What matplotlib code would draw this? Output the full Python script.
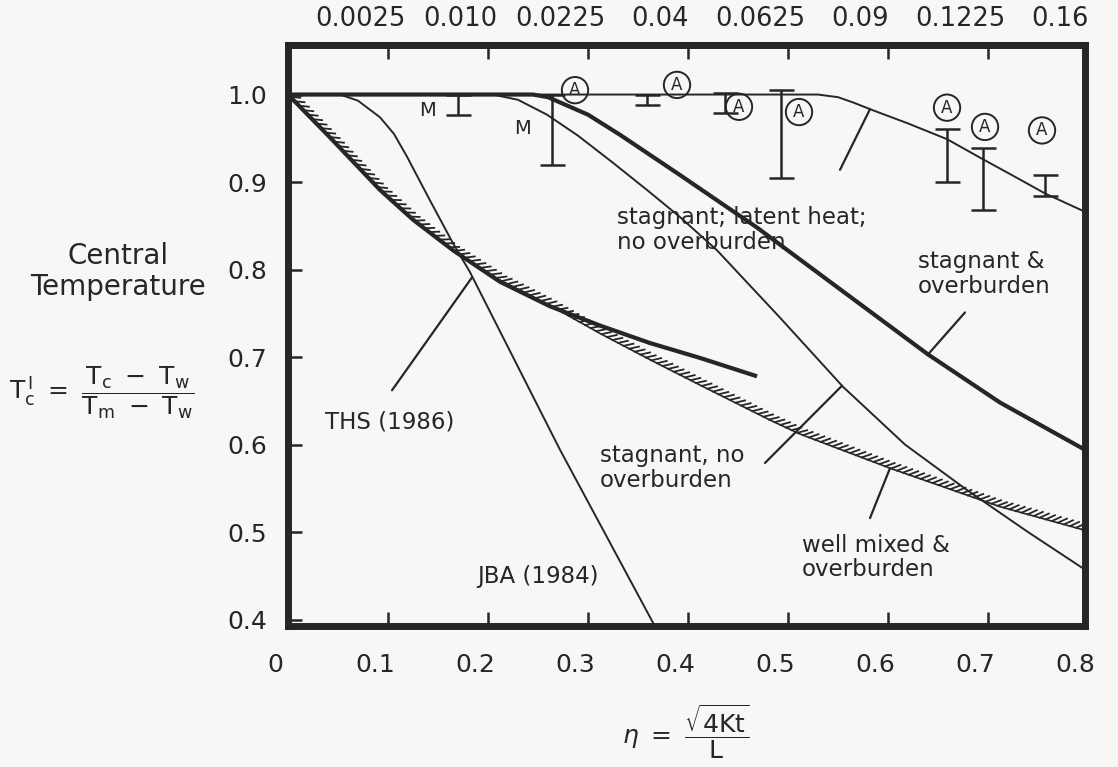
import numpy as np
import matplotlib
matplotlib.use('Agg')
import matplotlib.pyplot as plt
from matplotlib import patheffects
from matplotlib.transforms import ScaledTranslation, blended_transform_factory

plt.rcParams['font.family'] = ['DejaVu Sans']
plt.rcParams['mathtext.fontset'] = 'dejavusans'

ink = '#262626'
paper = '#f7f7f5'

#%% data: dimensionless central temperature vs eta
eta_ticks = [0.1, 0.2, 0.3, 0.4, 0.5, 0.6, 0.7]
eta_labels = ['0', '0.1', '0.2', '0.3', '0.4', '0.5', '0.6', '0.7', '0.8']
eta_label_vals = [0.0, 0.1, 0.2, 0.3, 0.4, 0.5, 0.6, 0.7, 0.8]
top_vals = [0.1, 0.2, 0.3, 0.4, 0.5, 0.6, 0.7, 0.8]
top_labels = ['0.0025', '0.010', '0.0225', '0.04', '0.0625', '0.09', '0.1225', '0.16']
tc_ticks = [0.4, 0.5, 0.6, 0.7, 0.8, 0.9, 1.0]

# well mixed & overburden (hatched)
eta_mixed = [0.0, 0.042, 0.092, 0.125, 0.165, 0.212, 0.262, 0.312, 0.362, 0.412, 0.482, 0.512, 0.602, 0.712, 0.797]
tc_mixed = [1.0, 0.951, 0.891, 0.857, 0.822, 0.788, 0.759, 0.727, 0.697, 0.668, 0.628, 0.612, 0.573, 0.529, 0.502]

# THS (1986)
eta_ths = [0.0, 0.042, 0.092, 0.125, 0.165, 0.212, 0.262, 0.312, 0.362, 0.412, 0.469]
tc_ths = [1.0, 0.951, 0.891, 0.857, 0.822, 0.786, 0.758, 0.736, 0.716, 0.699, 0.678]

# JBA (1984)
eta_jba = [0.0, 0.052, 0.07, 0.092, 0.106, 0.119, 0.142, 0.165, 0.182, 0.272, 0.368]
tc_jba = [1.0, 1.0, 0.993, 0.974, 0.955, 0.929, 0.879, 0.830, 0.797, 0.594, 0.390]

# stagnant, no overburden
eta_stag = [0.0, 0.205, 0.23, 0.259, 0.29, 0.325, 0.36, 0.392, 0.429, 0.492, 0.555, 0.617, 0.679, 0.74, 0.797]
tc_stag = [1.0, 1.0, 0.994, 0.977, 0.953, 0.922, 0.890, 0.860, 0.822, 0.745, 0.666, 0.600, 0.548, 0.500, 0.457]

# stagnant & overburden
eta_over = [0.0, 0.245, 0.26, 0.30, 0.332, 0.392, 0.442, 0.469, 0.542, 0.640, 0.712, 0.797]
tc_over = [1.0, 1.0, 0.997, 0.977, 0.954, 0.908, 0.869, 0.848, 0.786, 0.703, 0.648, 0.594]

# stagnant; latent heat; no overburden
eta_lat = [0.0, 0.53, 0.55, 0.565, 0.585, 0.62, 0.659, 0.695, 0.727, 0.757, 0.797]
tc_lat = [1.0, 1.0, 0.997, 0.991, 0.982, 0.967, 0.949, 0.926, 0.906, 0.887, 0.866]

# measured ranges
bar_eta = [0.170, 0.264, 0.359, 0.437, 0.493, 0.659, 0.695, 0.757]
bar_lo = [0.977, 0.919, 0.988, 0.979, 0.905, 0.900, 0.868, 0.884]
bar_hi = [1.0, 1.0, 1.0, 1.002, 1.005, 0.961, 0.939, 0.908]

a_eta = [0.287, 0.389, 0.451, 0.511, 0.659, 0.697, 0.754]
a_tc = [1.005, 1.011, 0.986, 0.980, 0.985, 0.963, 0.959]

m_eta = [0.139, 0.234]
m_tc = [0.982, 0.961]

#%% figure
fig = plt.figure(figsize=(11.18, 7.67), dpi=100, facecolor=paper)
ax = fig.add_axes([0.2576, 0.1838, 0.7129, 0.7575], facecolor=paper)
ax.set_xlim(0, 0.797)
ax.set_ylim(0.3926, 1.0566)

for s in ax.spines.values():
    s.set_linewidth(5)
    s.set_color(ink)

ax.set_xticks(eta_ticks)
ax.set_xticklabels([])
ax.set_yticks(tc_ticks)
ax.set_yticklabels([f'{v:.1f}' for v in tc_ticks])
ax.tick_params(axis='both', direction='in', length=10, width=1.8, color=ink)
ax.tick_params(axis='y', pad=15, labelsize=18, labelcolor=ink)

top = ax.secondary_xaxis('top')
top.set_xticks(eta_ticks)
top.set_xticklabels([])
top.tick_params(direction='in', length=10, width=1.8, color=ink)
top.spines['top'].set_linewidth(5)
top.spines['top'].set_color(ink)

# tick labels, set slightly left of their ticks
xb = blended_transform_factory(ax.transData, ax.transAxes)
for v, s in zip(eta_label_vals, eta_labels):
    ax.text(v, 0, s, transform=xb + ScaledTranslation(-9 / 72, -28 / 72, fig.dpi_scale_trans),
            ha='center', va='center', fontsize=18, color=ink, clip_on=False)
for v, s in zip(top_vals, top_labels):
    ax.text(v, 1, s, transform=xb + ScaledTranslation(-20 / 72, 19 / 72, fig.dpi_scale_trans),
            ha='center', va='center', fontsize=18.5, color=ink, clip_on=False)

#%% curves
ax.plot(eta_lat, tc_lat, color=ink, lw=1.4)
ax.plot(eta_stag, tc_stag, color=ink, lw=1.4)
ax.plot(eta_over, tc_over, color=ink, lw=3.0)
ax.plot(eta_jba, tc_jba, color=ink, lw=1.4)
ax.plot(eta_ths, tc_ths, color=ink, lw=3.0, solid_capstyle='butt')
ax.plot(eta_mixed, tc_mixed, color=ink, lw=1.2,
        path_effects=[patheffects.withTickedStroke(spacing=4.5, angle=40, length=1.6, linewidth=1.3)])

# measurement bars
bar_mid = (np.array(bar_lo) + np.array(bar_hi)) / 2
bar_err = (np.array(bar_hi) - np.array(bar_lo)) / 2
ax.errorbar(bar_eta, bar_mid, yerr=bar_err, fmt='none', ecolor=ink, elinewidth=1.8, capsize=9, capthick=1.8)

for x, y in zip(a_eta, a_tc):
    ax.text(x, y, 'A', ha='center', va='center', fontsize=12, color=ink,
            bbox=dict(boxstyle='circle,pad=0.25', fc='none', ec=ink, lw=1.4))
for x, y in zip(m_eta, m_tc):
    ax.text(x, y, 'M', ha='center', va='center', fontsize=14, color=ink)

#%% curve labels and pointers
lab = dict(fontsize=16.5, color=ink, va='center', ha='left', linespacing=1.1)
ax.text(0.329, 0.845, 'stagnant; latent heat;\nno overburden', **lab)
ax.text(0.630, 0.795, 'stagnant &\noverburden', **lab)
ax.text(0.312, 0.573, 'stagnant, no\noverburden', **lab)
ax.text(0.514, 0.471, 'well mixed &\noverburden', **lab)
ax.text(0.037, 0.626, 'THS (1986)', **lab)
ax.text(0.189, 0.449, 'JBA (1984)', **lab)

line = dict(arrowprops=dict(arrowstyle='-', color=ink, lw=1.6, shrinkA=0, shrinkB=0))
ax.annotate('', xy=(0.184, 0.791), xytext=(0.104, 0.662), **line)
ax.annotate('', xy=(0.554, np.interp(0.554, eta_stag, tc_stag)), xytext=(0.477, 0.579), **line)
ax.annotate('', xy=(0.640, np.interp(0.640, eta_over, tc_over)), xytext=(0.677, 0.751), **line)
ax.annotate('', xy=(0.602, np.interp(0.602, eta_mixed, tc_mixed)), xytext=(0.582, 0.516), **line)
ax.annotate('', xy=(0.582, np.interp(0.582, eta_lat, tc_lat)), xytext=(0.552, 0.914), **line)

#%% axis titles
fig.text(0.1055, 0.646, 'Central\nTemperature', ha='center', va='center', fontsize=20,
         color=ink, linespacing=1.15)
fig.text(0.091, 0.488, r'$\mathsf{T_c^{\,I}\ =\ \dfrac{T_c\ -\ T_w}{T_m\ -\ T_w}}$', ha='center', va='center',
         fontsize=18, color=ink)
fig.text(0.6136, 0.046, r'$\eta\ =\ \dfrac{\sqrt{\mathsf{4Kt}}}{\mathsf{L}}$', ha='center', va='center',
         fontsize=18, color=ink)

fig.savefig('out.png', dpi=100, facecolor=paper)
